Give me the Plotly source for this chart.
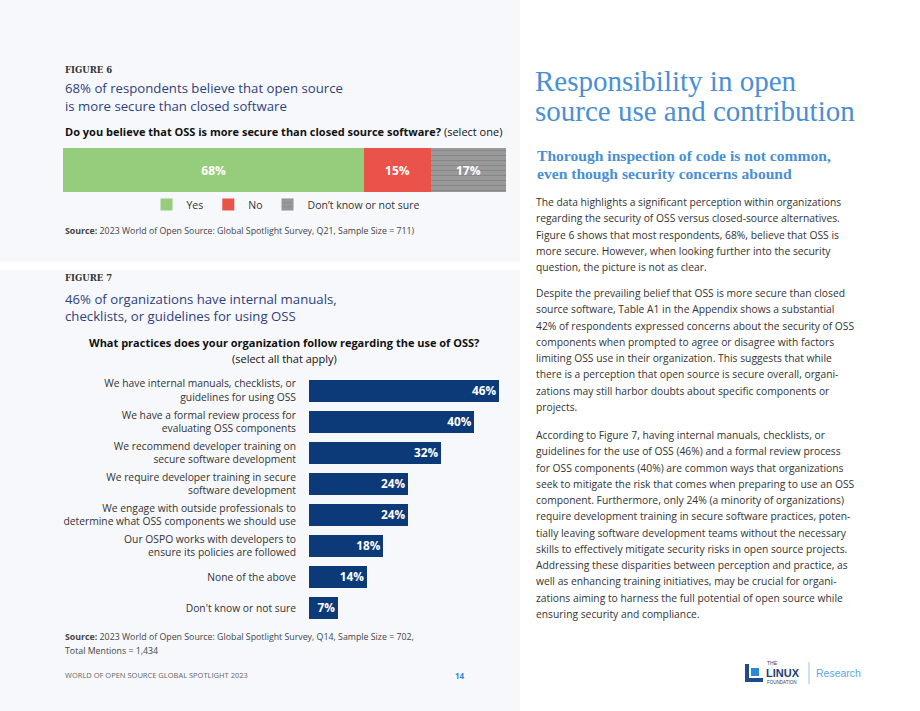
import plotly.graph_objects as go

W, H = 920, 711
def X(p): return p / W
def Y(p): return 1 - p / H

# ---------------- data ----------------
fig6_categories = ["Yes", "No", "Don’t know or not sure"]
fig6_values = [68, 15, 17]
fig6_labels = ["68%", "15%", "17%"]

fig7_categories = [
    "We have internal manuals, checklists, or<br>guidelines for using OSS",
    "We have a formal review process for<br>evaluating OSS components",
    "We recommend developer training on<br>secure software development",
    "We require developer training in secure<br>software development",
    "We engage with outside professionals to<br>determine what OSS components we should use",
    "Our OSPO works with developers to<br>ensure its policies are followed",
    "None of the above",
    "Don't know or not sure",
]
fig7_values = [46, 40, 32, 24, 24, 18, 14, 7]
fig7_labels = ["46%", "40%", "32%", "24%", "24%", "18%", "14%", "7%"]

fig6_colors = ["#96cd7c", "#e9534a", "#999999"]
NAVY = "#0c3a78"
TITLE_BLUE = "#2f3f7e"
SLAB_BLUE = "#4a8fd3"
BODY = "Open Sans"
TXT = "#333333"

fig = go.Figure()

# -------- Figure 6: stacked bar --------
for i, (cat, val, lab, col) in enumerate(zip(fig6_categories, fig6_values, fig6_labels, fig6_colors)):
    marker = dict(color=col, line=dict(width=0))
    if i == 2:
        marker["pattern"] = dict(shape="-", fgcolor="#838383", bgcolor=col, size=5, solidity=0.18, fillmode="replace")
    fig.add_trace(go.Bar(
        x=[val], y=["q"], orientation="h", name=cat, marker=marker, width=[1.0],
        text=[lab], textposition="inside", insidetextanchor="middle", textangle=0,
        textfont=dict(family=BODY, size=12, color="white", weight="bold"),
        xaxis="x", yaxis="y", hoverinfo="skip", showlegend=True,
    ))

# -------- Figure 7: horizontal bars --------
fig.add_trace(go.Bar(
    x=fig7_values, y=fig7_categories, orientation="h",
    marker=dict(color=NAVY, line=dict(width=0)),
    text=fig7_labels, textposition="inside", insidetextanchor="end", textangle=0,
    textfont=dict(family=BODY, size=12.5, color="white", weight="bold"),
    xaxis="x2", yaxis="y2", showlegend=False, hoverinfo="skip",
))

fig.update_layout(
    width=W, height=H, margin=dict(l=0, r=0, t=0, b=0),
    paper_bgcolor="white", plot_bgcolor="rgba(0,0,0,0)",
    barmode="stack", bargap=0.29,
    xaxis=dict(domain=[X(63), X(506)], range=[0, 100], visible=False, fixedrange=True),
    yaxis=dict(domain=[Y(192), Y(148)], range=[-0.5, 0.5], visible=False, fixedrange=True),
    xaxis2=dict(domain=[X(309), X(509)], range=[0, 48.4], visible=False, anchor="y2"),
    yaxis2=dict(domain=[Y(623.5), Y(375)], type="category", autorange="reversed",
                anchor="x2", showgrid=False, showline=False, ticks="", ticklabelstandoff=12,
                tickfont=dict(family=BODY, size=10.3, color=TXT)),
    legend=dict(orientation="h", x=X(286), xanchor="center", y=Y(190), yanchor="top",
                font=dict(family=BODY, size=10.5, color=TXT), bgcolor="rgba(0,0,0,0)",
                itemwidth=30, traceorder="normal"),
    showlegend=True,
)

# backgrounds
shapes = [
    dict(type="rect", xref="paper", yref="paper", x0=0, x1=X(520), y0=Y(262), y1=Y(0),
         fillcolor="#f7f8fc", line=dict(width=0), layer="below"),
    dict(type="rect", xref="paper", yref="paper", x0=0, x1=X(520), y0=Y(711), y1=Y(270),
         fillcolor="#f7f8fc", line=dict(width=0), layer="below"),
]

ann = []
def txt(x, y, s, size, color=TXT, family=BODY, xanchor="left", weight="normal", align="left"):
    ann.append(dict(x=X(x), y=Y(y), xref="paper", yref="paper", text=s, showarrow=False,
                    xanchor=xanchor, yanchor="middle", align=align,
                    font=dict(size=size, color=color, family=family, weight=weight)))

# Figure 6 texts
txt(63, 70, "FIGURE 6", 8.5, "#333333", "DejaVu Serif", weight="bold")
txt(63, 88, "68% of respondents believe that open source", 13.2, TITLE_BLUE)
txt(63, 106, "is more secure than closed software", 13.2, TITLE_BLUE)
txt(63, 132, "<b>Do you believe that OSS is more secure than closed source software?</b> (select one)", 11, "#111111")
txt(63, 231, "<b>Source:</b> 2023 World of Open Source: Global Spotlight Survey, Q21, Sample Size = 711)", 8.8, "#444444")

# Figure 7 texts
txt(63, 278, "FIGURE 7", 8.5, "#333333", "DejaVu Serif", weight="bold")
txt(63, 299, "46% of organizations have internal manuals,", 13.2, TITLE_BLUE)
txt(63, 316, "checklists, or guidelines for using OSS", 13.2, TITLE_BLUE)
txt(284, 343, "<b>What practices does your organization follow regarding the use of OSS?</b>", 11, "#111111", xanchor="center")
txt(284, 358, "(select all that apply)", 11, "#111111", xanchor="center")
txt(63, 637, "<b>Source:</b> 2023 World of Open Source: Global Spotlight Survey, Q14, Sample Size = 702,", 8.8, "#444444")
txt(63, 651, "Total Mentions = 1,434", 8.8, "#444444")

# footer
txt(63, 675, "WORLD OF OPEN SOURCE GLOBAL SPOTLIGHT 2023", 7.5, "#666666")
txt(460, 675, "14", 8, "#2f86d4", weight="bold", xanchor="center")

# right column
SLAB = "Liberation Serif"
txt(533, 81, "Responsibility in open", 29, SLAB_BLUE, SLAB)
txt(533, 111, "source use and contribution", 29, SLAB_BLUE, SLAB)
txt(535, 155, "Thorough inspection of code is not common,", 15.6, SLAB_BLUE, SLAB, weight="bold")
txt(535, 173, "even though security concerns abound", 15.6, SLAB_BLUE, SLAB, weight="bold")

paragraphs = [
    (202, [
        "The data highlights a significant perception within organizations",
        "regarding the security of OSS versus closed-source alternatives.",
        "Figure 6 shows that most respondents, 68%, believe that OSS is",
        "more secure. However, when looking further into the security",
        "question, the picture is not as clear.",
    ]),
    (293, [
        "Despite the prevailing belief that OSS is more secure than closed",
        "source software, Table A1 in the Appendix shows a substantial",
        "42% of respondents expressed concerns about the security of OSS",
        "components when prompted to agree or disagree with factors",
        "limiting OSS use in their organization. This suggests that while",
        "there is a perception that open source is secure overall, organi-",
        "zations may still harbor doubts about specific components or",
        "projects.",
    ]),
    (435, [
        "According to Figure 7, having internal manuals, checklists, or",
        "guidelines for the use of OSS (46%) and a formal review process",
        "for OSS components (40%) are common ways that organizations",
        "seek to mitigate the risk that comes when preparing to use an OSS",
        "component. Furthermore, only 24% (a minority of organizations)",
        "require development training in secure software practices, poten-",
        "tially leaving software development teams without the necessary",
        "skills to effectively mitigate security risks in open source projects.",
        "Addressing these disparities between perception and practice, as",
        "well as enhancing training initiatives, may be crucial for organi-",
        "zations aiming to harness the full potential of open source while",
        "ensuring security and compliance.",
    ]),
]
for y0, lines in paragraphs:
    for k, line in enumerate(lines):
        txt(534, y0 + k * 16.25, line, 10.3, "#333333")

# logo
shapes += [
    dict(type="rect", xref="paper", yref="paper", x0=X(745), x1=X(763), y0=Y(682), y1=Y(664),
         fillcolor="#1b4c8c", line=dict(width=0)),
    dict(type="rect", xref="paper", yref="paper", x0=X(749), x1=X(763), y0=Y(678), y1=Y(664),
         fillcolor="white", line=dict(width=0)),
    dict(type="rect", xref="paper", yref="paper", x0=X(751), x1=X(759), y0=Y(676), y1=Y(668),
         fillcolor="#2f86d4", line=dict(width=0)),
    dict(type="line", xref="paper", yref="paper", x0=X(809), x1=X(809), y0=Y(684), y1=Y(662),
         line=dict(color="#9cc3e8", width=1)),
]
ann.append(dict(x=X(766), y=Y(667), xref="paper", yref="paper", showarrow=False,
                xanchor="left", yanchor="bottom", borderpad=0,
                text="THE", font=dict(size=5, color="#1b3f73", family="Liberation Sans")))
ann.append(dict(x=X(765), y=Y(673), xref="paper", yref="paper", showarrow=False,
                xanchor="left", yanchor="middle", borderpad=0,
                text="<b>LINUX</b>", font=dict(size=11, color="#1b3f73", family="Liberation Sans")))
ann.append(dict(x=X(766), y=Y(679), xref="paper", yref="paper", showarrow=False,
                xanchor="left", yanchor="top", borderpad=0,
                text="FOUNDATION", font=dict(size=4.5, color="#1b3f73", family="Liberation Sans")))
txt(814, 673, "Research", 10.5, "#5ba6e6", "Liberation Sans")

fig.update_layout(shapes=shapes, annotations=ann)
fig.write_html("out.html", config={"displayModeBar": False},
               post_script="document.body.style.margin='0px';document.body.style.overflow='hidden';")
